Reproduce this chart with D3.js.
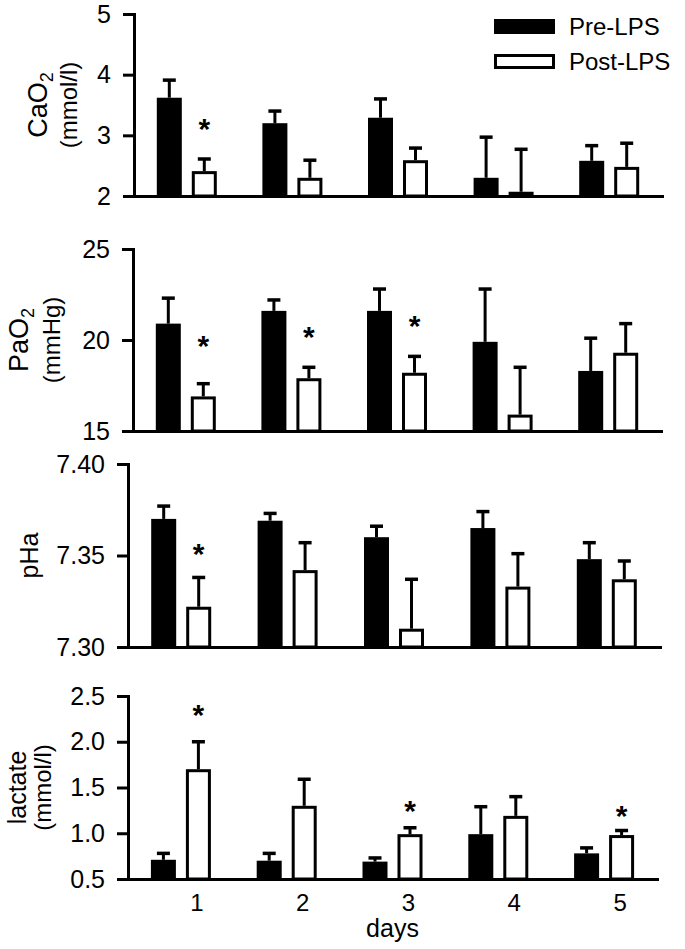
<!DOCTYPE html>
<html>
<head>
<meta charset="utf-8">
<script src="https://cdn.jsdelivr.net/npm/d3@7"></script>
<style>
  html, body { margin: 0; padding: 0; background: #fff; }
  svg { display: block; font-family: "Liberation Sans", Arial, Helvetica, sans-serif; }
</style>
</head>
<body>
<svg id="chart" width="685" height="949"></svg>
<script>
// ---------- DATA ----------
const days = [1, 2, 3, 4, 5];
const seriesNames = ["Pre-LPS", "Post-LPS"];

// CaO2 (mmol/l)
const cao2Pre      = [3.62, 3.20, 3.29, 2.30, 2.58];
const cao2PreSE    = [0.29, 0.20, 0.31, 0.67, 0.25];
const cao2Post     = [2.41, 2.30, 2.59, 2.07, 2.48];
const cao2PostSE   = [0.20, 0.29, 0.20, 0.70, 0.39];
const cao2Star     = [3.22, null, null, null, null];
const cao2Ticks    = [2, 3, 4, 5];

// PaO2 (mmHg)
const pao2Pre      = [20.9, 21.6, 21.6, 19.9, 18.3];
const pao2PreSE    = [1.4, 0.6, 1.2, 2.9, 1.8];
const pao2Post     = [16.9, 17.9, 18.2, 15.9, 19.3];
const pao2PostSE   = [0.7, 0.6, 0.9, 2.6, 1.6];
const pao2Star     = [20.1, 20.55, 21.2, null, null];
const pao2Ticks    = [15, 20, 25];

// pHa
const phPre        = [7.370, 7.369, 7.360, 7.365, 7.348];
const phPreSE      = [0.007, 0.004, 0.006, 0.009, 0.009];
const phPost       = [7.322, 7.342, 7.310, 7.333, 7.337];
const phPostSE     = [0.016, 0.015, 0.027, 0.018, 0.010];
const phStar       = [7.355, null, null, null, null];
const phTicks      = [7.30, 7.35, 7.40];

// lactate (mmol/l)
const lacPre       = [0.71, 0.70, 0.69, 0.99, 0.78];
const lacPreSE     = [0.07, 0.08, 0.04, 0.30, 0.06];
const lacPost      = [1.70, 1.30, 0.99, 1.19, 0.98];
const lacPostSE    = [0.30, 0.29, 0.07, 0.21, 0.05];
const lacStar      = [2.37, null, 1.32, null, 1.265];
const lacTicks     = [0.5, 1.0, 1.5, 2.0, 2.5];

const xTitle = "days";

// ---------- LAYOUT ----------
const panels = [
  { pre: cao2Pre, preSE: cao2PreSE, post: cao2Post, postSE: cao2PostSE, star: cao2Star,
    ticks: cao2Ticks, fmt: d3.format("d"),
    title1: "CaO", sub: "2", title2: "(mmol/l)", t1Size: 27, t1x: 47, t2x: 77,
    left: 134, right: 662, top: 14, bottom: 196 },
  { pre: pao2Pre, preSE: pao2PreSE, post: pao2Post, postSE: pao2PostSE, star: pao2Star,
    ticks: pao2Ticks, fmt: d3.format("d"),
    title1: "PaO", sub: "2", title2: "(mmHg)", t1Size: 27, t1x: 28, t2x: 60,
    left: 133, right: 661, top: 249, bottom: 431 },
  { pre: phPre, preSE: phPreSE, post: phPost, postSE: phPostSE, star: phStar,
    ticks: phTicks, fmt: d3.format(".2f"),
    title1: "pHa", sub: null, title2: null, t1Size: 25, t1x: 38, t2x: null,
    left: 128, right: 660, top: 464, bottom: 647 },
  { pre: lacPre, preSE: lacPreSE, post: lacPost, postSE: lacPostSE, star: lacStar,
    ticks: lacTicks, fmt: d3.format(".1f"),
    title1: "lactate", sub: null, title2: "(mmol/l)", t1Size: 25, t1x: 26, t2x: 51,
    left: 128, right: 657, top: 696, bottom: 879, xLabels: true }
];

const svg = d3.select("#chart");

panels.forEach(p => {
  const g = svg.append("g");
  const x0 = d3.scaleBand().domain(days).range([p.left, p.right]);
  const x1 = d3.scaleBand().domain(seriesNames)
    .range([x0.bandwidth() / 2 - 30, x0.bandwidth() / 2 + 30])
    .paddingInner(0.2857);
  const y = d3.scaleLinear()
    .domain([p.ticks[0], p.ticks[p.ticks.length - 1]])
    .range([p.bottom, p.top]);

  const rows = [];
  days.forEach((d, i) => {
    rows.push({ day: d, s: seriesNames[0], v: p.pre[i], se: p.preSE[i], star: null });
    rows.push({ day: d, s: seriesNames[1], v: p.post[i], se: p.postSE[i], star: p.star[i] });
  });
  const bw = x1.bandwidth();
  const cx = r => x0(r.day) + x1(r.s) + bw / 2;

  // bars
  g.selectAll("rect.bar").data(rows).join("rect")
    .attr("class", "bar")
    .attr("x", r => r.s === seriesNames[0] ? x0(r.day) + x1(r.s) : x0(r.day) + x1(r.s) + 1.5)
    .attr("width", r => r.s === seriesNames[0] ? bw : bw - 3)
    .attr("y", r => r.s === seriesNames[0] ? y(r.v) : y(r.v) + 1.5)
    .attr("height", r => r.s === seriesNames[0] ? p.bottom - y(r.v) : p.bottom - y(r.v) - 1.5)
    .attr("fill", r => r.s === seriesNames[0] ? "#000" : "#fff")
    .attr("stroke", r => r.s === seriesNames[0] ? "none" : "#000")
    .attr("stroke-width", 3);

  // error bars (upper only)
  g.selectAll("line.err").data(rows).join("line")
    .attr("class", "err")
    .attr("x1", cx).attr("x2", cx)
    .attr("y1", r => y(r.v)).attr("y2", r => y(r.v + r.se))
    .attr("stroke", "#000").attr("stroke-width", 3);
  g.selectAll("line.cap").data(rows).join("line")
    .attr("class", "cap")
    .attr("x1", r => cx(r) - 6.5).attr("x2", r => cx(r) + 6.5)
    .attr("y1", r => y(r.v + r.se)).attr("y2", r => y(r.v + r.se))
    .attr("stroke", "#000").attr("stroke-width", 3.5);

  // significance stars
  g.selectAll("text.star").data(rows.filter(r => r.star != null)).join("text")
    .attr("class", "star")
    .attr("x", cx).attr("y", r => y(r.star))
    .attr("dy", "0.58em")
    .attr("text-anchor", "middle")
    .attr("font-size", 30).attr("font-weight", "bold")
    .text("*");

  // x axis line
  const xAxis = d3.axisBottom(x0).tickSize(0).tickSizeOuter(0)
    .tickFormat(p.xLabels ? d3.format("d") : () => "");
  const gx = g.append("g").attr("transform", `translate(0,${p.bottom})`).call(xAxis);
  gx.select(".domain").attr("stroke", "#000").attr("stroke-width", 3).attr("stroke-linecap", "square");
  gx.selectAll("text").attr("dx", 16).attr("dy", 0).attr("y", 32)
    .attr("font-size", 24).attr("font-family", "Liberation Sans, Arial, sans-serif").attr("fill", "#000");

  // y axis
  const yAxis = d3.axisLeft(y).tickValues(p.ticks).tickFormat(p.fmt)
    .tickSize(11).tickSizeOuter(0).tickPadding(12);
  const gy = g.append("g").attr("transform", `translate(${p.left},0)`).call(yAxis);
  gy.select(".domain").attr("stroke", "#000").attr("stroke-width", 3).attr("stroke-linecap", "square");
  gy.selectAll(".tick line").attr("stroke", "#000").attr("stroke-width", 3);
  gy.selectAll("text").attr("font-size", 25)
    .attr("font-family", "Liberation Sans, Arial, sans-serif").attr("fill", "#000");

  // y titles
  const midY = (p.top + p.bottom) / 2;
  const t1 = g.append("text")
    .attr("transform", `translate(${p.t1x},${midY}) rotate(-90)`)
    .attr("text-anchor", "middle")
    .attr("font-size", p.t1Size);
  t1.append("tspan").text(p.title1);
  if (p.sub) {
    t1.append("tspan").attr("font-size", 18).attr("dy", 6).text(p.sub);
  }
  if (p.title2) {
    g.append("text")
      .attr("transform", `translate(${p.t2x},${midY}) rotate(-90)`)
      .attr("text-anchor", "middle")
      .attr("font-size", 24)
      .text(p.title2);
  }

  if (p.xLabels) {
    g.append("text")
      .attr("x", (p.left + p.right) / 2).attr("y", 937)
      .attr("text-anchor", "middle").attr("font-size", 25)
      .text(xTitle);
  }
});

// legend
const legend = svg.append("g");
seriesNames.forEach((s, i) => {
  const ly = 19 + i * 35;
  legend.append("rect")
    .attr("x", i === 0 ? 494 : 495.5).attr("y", i === 0 ? ly : ly + 1.5)
    .attr("width", i === 0 ? 61 : 58).attr("height", i === 0 ? 15 : 12)
    .attr("fill", i === 0 ? "#000" : "#fff")
    .attr("stroke", i === 0 ? "none" : "#000").attr("stroke-width", 3);
  legend.append("text")
    .attr("x", 569).attr("y", ly + 16)
    .attr("font-size", 24)
    .text(s);
});
</script>
</body>
</html>
